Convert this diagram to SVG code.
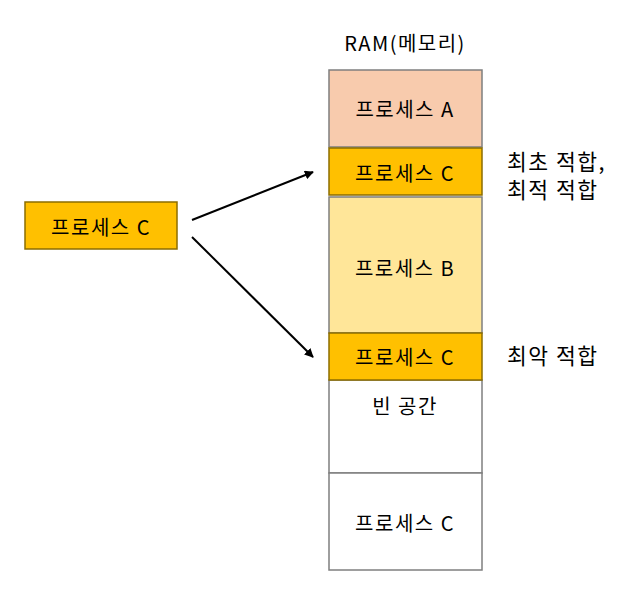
<svg xmlns="http://www.w3.org/2000/svg" width="634" height="606" viewBox="0 0 634 606">
<style>
text{font-family:"Noto Sans CJK KR","Noto Sans",sans-serif;fill:#000;}
.box{font-size:20px;letter-spacing:1.5px;text-anchor:middle;dominant-baseline:central;}
.lbl{font-size:21.5px;letter-spacing:1.5px;}
.gray{stroke:#7f7f7f;stroke-width:1.5;}
.gold{fill:#ffc000;stroke:#8c6d00;stroke-width:1.5;}
</style>
<defs>
<marker id="ah" viewBox="0 0 10 10" refX="9" refY="5" markerWidth="9" markerHeight="9" markerUnits="userSpaceOnUse" orient="auto">
<path d="M0,0 L10,5 L0,10 z" fill="#000"/>
</marker>
</defs>
<rect width="634" height="606" fill="#fff"/>
<text x="405" y="42" style="font-size:20px;letter-spacing:1.5px;text-anchor:middle;dominant-baseline:central">RAM(메모리)</text>
<g id="ram-a"><rect x="329" y="70" width="153" height="77" fill="#f8cbad" class="gray"/><text class="box" x="405" y="108">프로세스 A</text></g>
<g id="ram-b"><rect x="329" y="197" width="153" height="136" fill="#ffe699" class="gray"/><text class="box" x="405" y="267">프로세스 B</text></g>
<g id="ram-empty"><rect x="329" y="380" width="153" height="93" fill="#fff" class="gray"/><text class="box" x="405" y="405">빈 공간</text></g>
<g id="ram-c3"><rect x="329" y="473" width="153" height="97" fill="#fff" class="gray"/><text class="box" x="405" y="522">프로세스 C</text></g>
<g id="ram-c1"><rect x="329" y="148" width="153" height="47" class="gold"/><text class="box" x="405" y="172">프로세스 C</text></g>
<g id="ram-c2"><rect x="329" y="333" width="153" height="47" class="gold"/><text class="box" x="405" y="356">프로세스 C</text></g>
<g id="proc-c"><rect x="25" y="202" width="152" height="47" class="gold"/><text class="box" x="101" y="226">프로세스 C</text></g>
<g id="connectors" stroke="#000" stroke-width="2" fill="none">
<line x1="192" y1="220" x2="313" y2="172" marker-end="url(#ah)"/>
<line x1="192" y1="237" x2="313" y2="357" marker-end="url(#ah)"/>
</g>
<text class="lbl" x="507" y="170">최초 적합,</text>
<text class="lbl" x="507" y="198">최적 적합</text>
<text class="lbl" x="507" y="364">최악 적합</text>
</svg>
